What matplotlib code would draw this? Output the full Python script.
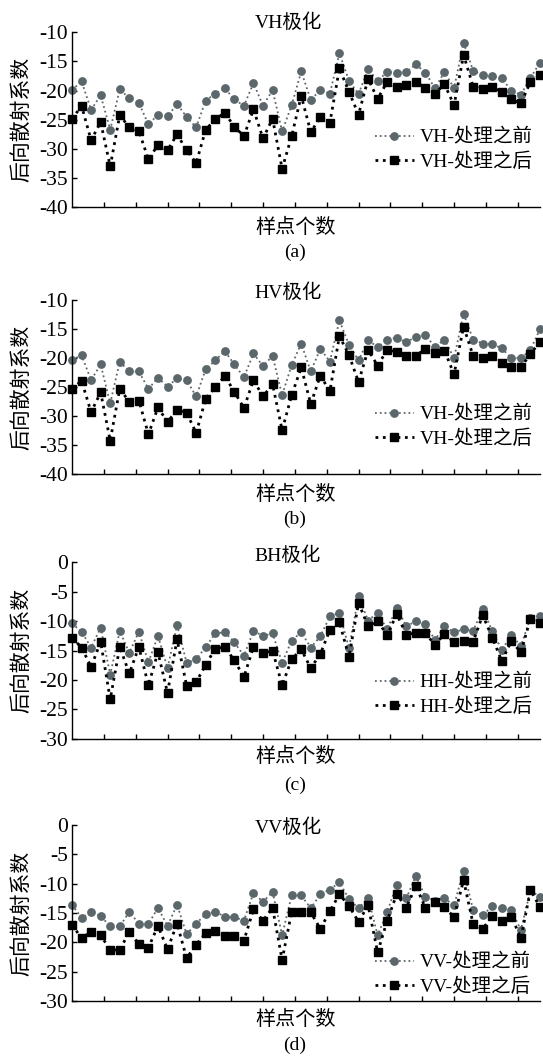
import numpy as np
import matplotlib
matplotlib.use("Agg")
import matplotlib.pyplot as plt

plt.rcParams['font.family'] = ['Liberation Serif', 'Noto Sans CJK SC']
plt.rcParams['axes.unicode_minus'] = False

# 各极化方式下 50 个样点的后向散射系数
vh_before = [-19.9, -18.4, -23.3, -20.8, -26.7, -19.8, -21.3, -22.1, -25.8, -24.1,
             -24.4, -22.3, -24.5, -26.3, -21.7, -20.5, -19.6, -21.5, -22.6, -18.7,
             -22.6, -19.9, -27.0, -22.5, -16.7, -21.6, -19.9, -20.5, -13.6, -18.3,
             -20.6, -16.3, -18.3, -16.8, -16.9, -16.8, -15.5, -16.9, -19.6, -16.8,
             -19.6, -11.8, -16.6, -17.3, -17.5, -17.9, -20.0, -20.7, -17.8, -15.2]
vh_after = [-24.9, -22.6, -28.5, -25.4, -33.0, -24.2, -26.3, -26.9, -31.8, -29.3,
            -30.2, -27.5, -30.2, -32.4, -26.7, -24.9, -23.8, -26.2, -27.8, -23.2,
            -28.2, -24.8, -33.4, -27.8, -20.9, -27.1, -24.6, -25.5, -16.2, -20.2,
            -24.1, -18.0, -21.4, -18.5, -19.4, -19.0, -18.5, -19.5, -20.5, -18.9,
            -22.5, -13.9, -19.3, -19.7, -19.4, -20.2, -21.5, -22.2, -18.5, -17.4]

hv_before = [-20.3, -19.5, -23.8, -21.1, -27.8, -20.6, -22.3, -22.3, -25.3, -23.4,
             -24.9, -23.5, -23.8, -26.6, -21.9, -20.4, -18.8, -21.1, -23.3, -19.2,
             -21.4, -19.6, -26.4, -21.2, -17.5, -22.3, -18.4, -20.6, -13.5, -17.7,
             -20.4, -16.9, -18.1, -16.9, -16.5, -17.3, -16.3, -16.0, -18.1, -16.8,
             -20.0, -12.4, -16.8, -17.5, -17.6, -18.3, -20.0, -20.0, -18.6, -15.0]
hv_after = [-25.3, -23.9, -29.3, -25.9, -34.2, -25.3, -27.5, -27.3, -33.1, -28.5,
            -31.0, -28.9, -29.4, -32.9, -27.0, -25.0, -23.1, -25.8, -28.6, -23.8,
            -26.6, -24.5, -32.4, -26.4, -21.6, -27.9, -23.0, -25.7, -16.2, -19.5,
            -24.1, -18.6, -21.3, -18.6, -18.9, -19.6, -19.6, -18.4, -19.2, -18.7,
            -22.8, -14.6, -19.6, -19.9, -19.6, -20.8, -21.6, -21.6, -19.3, -17.2]

hh_before = [-10.4, -11.8, -14.5, -11.1, -19.1, -11.7, -15.4, -11.8, -17.0, -12.5,
             -18.0, -10.7, -17.1, -16.5, -14.4, -12.1, -11.9, -13.6, -15.9, -11.7,
             -12.5, -12.1, -17.1, -13.3, -11.9, -14.5, -12.6, -9.2, -8.6, -14.6,
             -5.8, -9.9, -8.6, -11.4, -7.7, -10.9, -10.0, -10.5, -13.2, -10.9,
             -11.9, -11.4, -11.7, -7.9, -11.7, -14.9, -12.4, -14.2, -9.5, -9.1]
hh_after = [-12.8, -14.5, -17.8, -13.5, -23.3, -14.4, -18.9, -14.4, -20.9, -15.3,
            -22.2, -13.1, -21.0, -20.4, -17.4, -14.7, -14.4, -16.7, -19.5, -14.4,
            -15.5, -15.0, -20.9, -16.5, -14.8, -18.0, -15.6, -11.5, -10.2, -16.1,
            -6.9, -10.9, -10.0, -12.4, -8.8, -12.3, -12.0, -12.1, -14.0, -12.2,
            -13.6, -13.4, -13.5, -9.0, -12.8, -16.8, -13.4, -15.3, -9.6, -10.4]

vv_before = [-13.6, -15.8, -14.9, -15.5, -17.3, -17.3, -14.8, -16.8, -16.9, -14.1,
             -17.2, -13.6, -18.6, -16.8, -15.2, -14.8, -15.6, -15.7, -16.3, -11.6,
             -13.1, -11.4, -18.8, -12.0, -12.0, -14.2, -11.8, -11.0, -9.8, -12.6,
             -14.2, -12.4, -18.8, -14.8, -10.2, -12.5, -8.7, -12.2, -12.9, -12.5,
             -13.7, -7.8, -14.5, -15.4, -13.8, -14.2, -14.5, -17.9, -11.1, -12.3]
vv_after = [-17.0, -19.3, -18.2, -18.8, -21.3, -21.3, -18.2, -20.3, -20.9, -17.2,
            -21.2, -16.8, -22.7, -20.4, -18.4, -18.0, -18.9, -19.0, -19.7, -14.4,
            -16.3, -14.1, -23.0, -14.8, -14.8, -14.9, -17.7, -14.7, -11.8, -13.8,
            -16.5, -13.7, -21.7, -16.3, -11.8, -14.1, -10.4, -14.1, -13.1, -14.0,
            -15.7, -9.4, -16.9, -17.7, -15.5, -16.3, -15.6, -19.3, -11.1, -14.0]

titles = ["VH极化", "HV极化", "BH极化", "VV极化"]
prefixes = ["VH", "VH", "HH", "VV"]
sub_labels = ["(a)", "(b)", "(c)", "(d)"]
ylims = [(-40, -10), (-40, -10), (-30, 0), (-30, 0)]
before_list = [vh_before, hv_before, hh_before, vv_before]
after_list = [vh_after, hv_after, hh_after, vv_after]

W, H = 543, 1057
# 每个子图的像素位置 (上边, 下边), 标题/横轴标签/编号/图例的纵向位置
axes_px = [(32.3, 207.3), (300.0, 474.3), (562.3, 738.7), (825.0, 1001.0)]
title_y = [22.3, 292.7, 555.7, 827.3]
xlabel_y = [228, 495, 757, 1020]
sub_y = [252, 519, 785, 1045]
legend_y = [150, 427, 694.7, 974.7]
left_px, right_px = 72, 540

gray = '#5c676b'
fig = plt.figure(figsize=(W / 100, H / 100), dpi=100)

for i in range(4):
    top, bottom = axes_px[i]
    ax = fig.add_axes([left_px / W, 1 - bottom / H, (right_px - left_px) / W, (bottom - top) / H])
    x = np.arange(len(before_list[i]))
    ax.plot(x, before_list[i], linestyle=':', color=gray, linewidth=1.3,
            marker='o', markersize=5.3, markerfacecolor=gray, markeredgecolor=gray,
            clip_on=False, label=prefixes[i] + "-处理之前")
    ax.plot(x, after_list[i], linestyle=':', color='black', linewidth=2.0,
            marker='s', markersize=5.5, markerfacecolor='black', markeredgecolor='black',
            clip_on=False, label=prefixes[i] + "-处理之后")
    ax.set_xlim(0, len(x) - 1)
    ax.set_ylim(*ylims[i])
    ax.set_yticks(np.arange(ylims[i][0], ylims[i][1] + 1, 5))
    ax.set_xticks(np.arange(1, 15) * 10 / 3)
    ax.set_xticklabels([])
    ax.spines['top'].set_visible(False)
    ax.spines['right'].set_visible(False)
    ax.spines['left'].set_linewidth(1.0)
    ax.spines['bottom'].set_linewidth(1.0)
    ax.tick_params(direction='in', length=3.5, width=1.0, labelsize=15.5, pad=3)

    leg = ax.legend(loc='center left', bbox_to_anchor=(375 / W, 1 - legend_y[i] / H),
                    bbox_transform=fig.transFigure, frameon=False, fontsize=14,
                    borderpad=0, borderaxespad=0, handlelength=2.0, handletextpad=0.3,
                    labelspacing=0.3)

    fig.text(288 / W, 1 - title_y[i] / H, titles[i], ha='center', va='center', fontsize=14)
    fig.text(296 / W, 1 - xlabel_y[i] / H, "样点个数", ha='center', va='center', fontsize=14.5)
    fig.text(295 / W, 1 - sub_y[i] / H, sub_labels[i], ha='center', va='center', fontsize=14)
    fig.text(22 / W, 1 - (top + bottom) / 2 / H, "后向散射系数", ha='center', va='center',
             rotation=90, fontsize=15)

plt.savefig("out.png", dpi=100)
